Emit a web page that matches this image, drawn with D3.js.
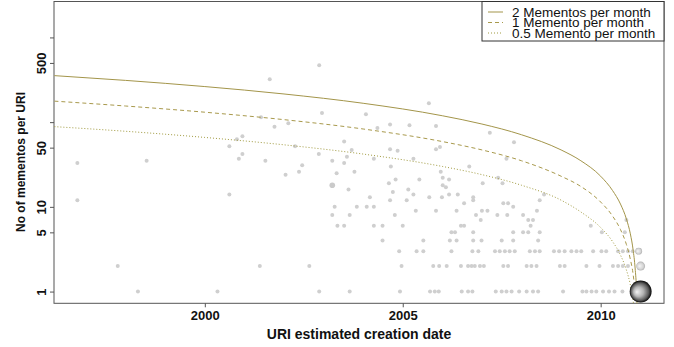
<!DOCTYPE html>
<html>
<head>
<meta charset="utf-8">
<script src="https://cdn.jsdelivr.net/npm/d3@7"></script>
<style>
  body { margin: 0; background: #fff; }
  svg { display: block; font-family: "Liberation Sans", Arial, sans-serif; }
</style>
</head>
<body>
<div id="chart"></div>
<script>
// axis ticks
var xTicks = [2000, 2005, 2010];
var yTicks = [1, 5, 10, 50, 100, 500, 1000];
var yTickLabels = ["1", "5", "10", "50", "", "500", ""];

// reference curves
var legendLabels = ["2 Mementos per month", "1 Memento per month", "0.5 Memento per month"];
var curveYears = [1996.2, 1998, 2000, 2002, 2004, 2006, 2007, 2008, 2009, 2009.5, 2010, 2010.3, 2010.5, 2010.65, 2010.75, 2010.82, 2010.87, 2010.91, 2010.93];
var curveTwo  = [354, 311, 263, 215, 167, 119, 95, 71, 47, 35, 23, 15.6, 10.8, 7.2, 4.8, 3.1, 1.9, 0.96, 0.48];
var curveOne  = [177, 155, 131, 107, 83, 59, 47, 35, 23, 17.4, 11.4, 7.8, 5.4, 3.6, 2.4, 1.6, 0.96, 0.48, 0.24];
var curveHalf = [88.5, 78, 66, 54, 42, 30, 24, 18, 12, 8.7, 5.7, 3.9, 2.7, 1.8, 1.2, 0.78, 0.48, 0.24, 0.12];

// one URI per point: [estimated creation year, mementos]
var uriPoints = [
  [1998.31,1],[2000.32,1],[2002.89,1],[2003.66,1],[2004.93,1],[2005.69,1],[2005.81,1],[2005.91,1],[2006.49,1],[2006.65,1],
  [2006.76,1],[2007.35,1],[2007.50,1],[2007.62,1],[2007.75,1],[2007.94,1],[2008.13,1],[2008.29,1],[2008.42,1],[2009.05,1],
  [2009.54,1],[2009.64,1],[2009.77,1],[2009.89,1],[2010.06,1],[2010.21,1],[2010.35,1],[2010.55,1],
  [1997.80,2],[2001.39,2],[2002.64,2],[2004.97,2],[2005.77,2],[2005.92,2],[2006.11,2],[2006.47,2],[2006.65,2],[2006.74,2],
  [2006.82,2],[2006.95,2],[2007.05,2],[2007.54,2],[2007.66,2],[2008.13,2],[2008.25,2],[2008.38,2],[2008.97,2],[2009.09,2],
  [2009.64,2],[2009.97,2],[2010.31,2],[2010.44,2],[2010.56,2],[2010.69,2],
  [2004.91,3],[2005.35,3],[2005.52,3],[2006.23,3],[2006.76,3],[2006.91,3],[2007.33,3],[2007.45,3],[2007.58,3],[2007.70,3],
  [2007.83,3],[2008.21,3],[2008.34,3],[2008.46,3],[2008.82,3],[2008.95,3],[2009.09,3],[2009.26,3],[2009.39,3],[2009.51,3],
  [2009.81,3],[2010.02,3],[2010.14,3],[2010.44,3],[2010.56,3],[2010.69,3],[2010.81,3],
  [2004.49,4],[2005.52,4],[2006.19,4],[2006.36,4],[2006.78,4],[2006.99,4],[2007.50,4],[2007.79,4],[2008.42,4],
  [2006.23,5],[2006.32,5],[2006.78,5],[2007.79,5],[2008.04,5],[2008.17,5],[2008.46,5],[2010.03,5],[2010.61,5],
  [2003.35,6],[2003.52,6],[2004.27,6],[2004.49,6],[2005.00,6],[2006.47,6],[2006.55,6],[2008.23,6],[2009.75,6],
  [2006.97,7],[2008.17,7],[2008.29,7],[2010.65,7],
  [2003.22,8],[2003.66,8],[2004.80,8],[2006.85,8],[2007.39,8],[2007.64,8],[2008.04,8],
  [2005.33,9],[2005.84,9],[2006.36,9],[2007.00,9],[2007.14,9],[2008.39,9],
  [2003.28,10],[2003.84,10],[2004.09,10],[2004.27,10],[2007.79,10],
  [2006.55,11],[2007.54,11],[2007.66,11],
  [1996.78,12],[2004.68,12],[2005.10,12],[2006.78,12],[2008.46,12],
  [2004.17,13],[2005.67,13],[2005.99,13],[2006.78,13],
  [2000.62,14],[2005.27,14],[2006.17,14],[2006.39,14],[2008.57,14],
  [2004.75,15],[2003.63,16],[2005.14,16],[2006.09,17],[2006.01,18],
  [2004.65,19],[2007.02,19],[2007.52,19],[2004.82,21],[2005.42,21],[2006.17,21],[2006.01,22],[2007.41,22],
  [2002.04,24],[2003.33,25],[2002.38,26],[2003.78,26],[2005.96,26],[2004.70,30],[2006.68,30],[2002.46,31],
  [1996.78,33],[2003.52,33],[1998.53,35],[2001.53,35],[2003.22,35],
  [2000.86,37],[2004.27,37],[2005.27,37],[2007.62,37],[2003.59,39],[2000.95,42],[2002.88,42],[2004.87,46],[2003.71,47],
  [2004.68,48],[2005.84,48],[2005.94,51],[2000.62,52],[2002.28,52],[2007.81,58],[2003.52,59],[2000.81,63],[2000.95,68],
  [2007.20,75],[2004.36,85],[2001.76,88],[2005.84,90],[2005.17,92],[2004.68,94],[2002.11,97],[2001.42,114],
  [2004.07,124],[2002.96,128],[2005.66,167],[2001.64,320],[2002.89,469]
];

// stacked URIs: [year, mementos, number of URIs]
var bubbles = [[2003.22, 18, 2], [2010.96, 3, 3], [2011.01, 2, 5], [2011.01, 1, 30]];

var width = 674, height = 347;
var plot = { left: 54, right: 664, top: 1.5, bottom: 303.3 };

var svg = d3.select("#chart").append("svg")
  .attr("width", width)
  .attr("height", height);

var defs = svg.append("defs");
defs.append("clipPath").attr("id", "plotClip")
  .append("rect")
  .attr("x", plot.left).attr("y", plot.top)
  .attr("width", plot.right - plot.left).attr("height", plot.bottom - plot.top);

var darkBall = defs.append("radialGradient").attr("id", "darkBall")
  .attr("cx", "50%").attr("cy", "50%").attr("r", "50%").attr("fx", "32%").attr("fy", "52%");
darkBall.append("stop").attr("offset", "0%").attr("stop-color", "#f2f2f2");
darkBall.append("stop").attr("offset", "45%").attr("stop-color", "#b4b4b4");
darkBall.append("stop").attr("offset", "80%").attr("stop-color", "#5a5a5a");
darkBall.append("stop").attr("offset", "100%").attr("stop-color", "#050505");

var lightBall = defs.append("radialGradient").attr("id", "lightBall")
  .attr("cx", "50%").attr("cy", "50%").attr("r", "50%").attr("fx", "35%").attr("fy", "50%");
lightBall.append("stop").attr("offset", "0%").attr("stop-color", "#f6f6f6");
lightBall.append("stop").attr("offset", "70%").attr("stop-color", "#d0d0d0");
lightBall.append("stop").attr("offset", "100%").attr("stop-color", "#a8a8a8");

var x = d3.scaleLinear().domain([1996.19, 2011.6]).range([plot.left, plot.right]);
var y = d3.scaleLog().domain([0.727, 2655]).range([plot.bottom, plot.top]);
var r = d3.scaleSqrt().domain([0, 1]).range([0, 2]);

// axes
var xAxis = d3.axisBottom(x).tickValues(xTicks).tickSize(4).tickFormat(d3.format("d"));
var xAxisG = svg.append("g")
  .attr("transform", "translate(0," + plot.bottom + ")")
  .call(xAxis);
xAxisG.select(".domain").remove();
xAxisG.selectAll("line").attr("stroke", "#555");
xAxisG.selectAll("text")
  .attr("y", 7)
  .attr("fill", "#111")
  .style("font-size", "13px")
  .style("font-weight", "bold");

var yAxis = d3.axisLeft(y).tickValues(yTicks).tickSize(4).tickFormat(function(d, i) { return yTickLabels[i]; });
var yAxisG = svg.append("g")
  .attr("transform", "translate(" + plot.left + ",0)")
  .call(yAxis);
yAxisG.select(".domain").remove();
yAxisG.selectAll("line").attr("stroke", "#555");
yAxisG.selectAll("text")
  .attr("x", null).attr("dy", null)
  .attr("transform", "translate(-8.5,0) rotate(-90)")
  .attr("text-anchor", "middle")
  .attr("fill", "#111")
  .style("font-size", "13px")
  .style("font-weight", "bold");

svg.append("rect")
  .attr("x", plot.left).attr("y", plot.top)
  .attr("width", plot.right - plot.left).attr("height", plot.bottom - plot.top)
  .attr("fill", "none")
  .attr("stroke", "#555");

svg.append("text")
  .attr("x", (plot.left + plot.right) / 2)
  .attr("y", 339)
  .attr("text-anchor", "middle")
  .attr("fill", "#111")
  .style("font-size", "14px")
  .style("font-weight", "bold")
  .text("URI estimated creation date");

svg.append("text")
  .attr("transform", "translate(25,162) rotate(-90)")
  .attr("text-anchor", "middle")
  .attr("fill", "#111")
  .style("font-size", "12px")
  .style("font-weight", "bold")
  .text("No of mementos per URI");

// points
var g = svg.append("g").attr("clip-path", "url(#plotClip)");

g.selectAll("circle.uri").data(uriPoints).enter().append("circle")
  .attr("class", "uri")
  .attr("cx", function(d) { return x(d[0]); })
  .attr("cy", function(d) { return y(d[1]); })
  .attr("r", r(1))
  .attr("fill", "#cfcfcf");

// rate curves
var curveStyles = [
  { values: curveTwo,  color: "#a3954a", dash: null },
  { values: curveOne,  color: "#a8994c", dash: "4,3" },
  { values: curveHalf, color: "#a09a40", dash: "1,2" }
];
var line = d3.line()
  .x(function(d) { return x(d[0]); })
  .y(function(d) { return y(d[1]); })
  .curve(d3.curveMonotoneX);

g.selectAll("path.rate").data(curveStyles).enter().append("path")
  .attr("class", "rate")
  .attr("d", function(s) { return line(curveYears.map(function(t, i) { return [t, s.values[i]]; })); })
  .attr("fill", "none")
  .attr("stroke", function(s) { return s.color; })
  .attr("stroke-width", 1)
  .attr("stroke-dasharray", function(s) { return s.dash; });

g.selectAll("circle.stack").data(bubbles).enter().append("circle")
  .attr("class", "stack")
  .attr("cx", function(d) { return x(d[0]); })
  .attr("cy", function(d) { return y(d[1]); })
  .attr("r", function(d) { return r(d[2]); })
  .attr("fill", function(d) { return d[2] >= 20 ? "url(#darkBall)" : (d[2] >= 3 ? "url(#lightBall)" : "#c4c4c4"); })
  .attr("opacity", function(d) { return d[2] >= 20 ? 1 : 0.9; });

// legend
var legend = svg.append("g").attr("transform", "translate(482,1.5)");
legend.append("rect")
  .attr("width", 182).attr("height", 39.5)
  .attr("fill", "#fff")
  .attr("stroke", "#333");

var rows = legend.selectAll("g.row").data(curveStyles).enter().append("g")
  .attr("class", "row")
  .attr("transform", function(d, i) { return "translate(0," + (10.5 + i * 10.5) + ")"; });
rows.append("line")
  .attr("x1", 6).attr("x2", 21)
  .attr("stroke", function(d) { return d.color; })
  .attr("stroke-dasharray", function(d) { return d.dash; });
rows.append("text")
  .attr("x", 30).attr("y", 4.8)
  .attr("fill", "#111")
  .style("font-size", "13.5px")
  .text(function(d, i) { return legendLabels[i]; });
</script>
</body>
</html>
